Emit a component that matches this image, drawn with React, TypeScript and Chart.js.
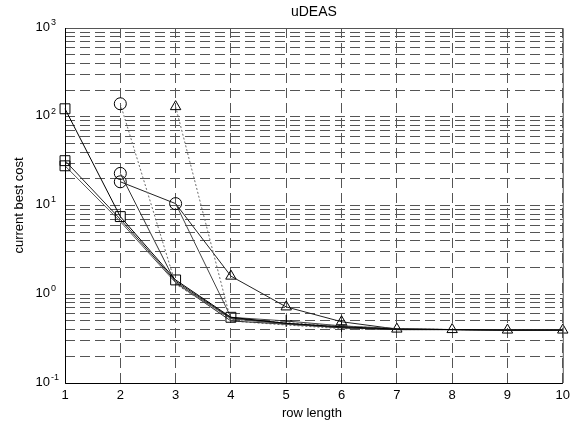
import React, { useEffect, useRef } from "react";
import { Chart, registerables } from "chart.js";

Chart.register(...registerables);

// ---- data ----
const rowLength = [1, 2, 3, 4, 5, 6, 7, 8, 9, 10];

const seriesA = [123, 7.5, 1.45, 0.55, 0.47, 0.43, 0.405, 0.4, 0.395, 0.395];
const seriesB = [32, 7.0, 1.4, 0.54, 0.47, 0.42, 0.4, 0.4, 0.395, 0.395];
const seriesC = [28, 6.6, 1.35, 0.53, 0.46, 0.42, 0.4, 0.4, 0.395, 0.395];
const seriesD = [null, 140, 1.3, 0.52, 0.48, 0.44, 0.41, 0.4, 0.4, 0.395];
const seriesE = [null, 23, 1.35, 0.5, 0.46, 0.42, 0.4, 0.4, 0.395, 0.395];
const seriesF = [null, 18.5, 10.5, 1.6, 0.72, 0.49, 0.405, 0.4, 0.395, 0.395];
const seriesG = [null, null, 10.5, 0.55, 0.5, 0.44, 0.41, 0.4, 0.395, 0.395];
const seriesH = [null, null, 130, 0.5, 0.45, 0.41, 0.4, 0.4, 0.395, 0.395];

const yMajorTicks = [0.1, 1, 10, 100, 1000];
const yMajorExponents = ["-1", "0", "1", "2", "3"];
const xTickLabels = ["1", "2", "3", "4", "5", "6", "7", "8", "9", "10"];

const chartTitle = "uDEAS";
const xTitle = "row length";
const yTitle = "current best cost";

const FONT = '"Liberation Sans", Arial, Helvetica, sans-serif';

function markers(style: string, radius: number, shown: number[]) {
  return {
    pointStyle: rowLength.map((_, i) => (shown.includes(i) ? style : "circle")),
    pointRadius: rowLength.map((_, i) => (shown.includes(i) ? radius : 0)),
  };
}

function toPoints(values: (number | null)[]) {
  return rowLength.map((x, i) => ({ x, y: values[i] }));
}

const overlay = {
  id: "overlay",
  afterDraw(chart: any) {
    const { ctx, chartArea } = chart;
    const y = chart.scales.y;
    ctx.save();
    ctx.setLineDash([]);
    ctx.lineWidth = 1;
    ctx.strokeStyle = "#555";
    ctx.beginPath();
    ctx.moveTo(chartArea.left, chartArea.top + 0.5);
    ctx.lineTo(chartArea.right + 0.5, chartArea.top + 0.5);
    ctx.lineTo(chartArea.right + 0.5, chartArea.bottom);
    ctx.stroke();
    ctx.strokeStyle = "#000";
    ctx.beginPath();
    ctx.moveTo(chartArea.left + 0.5, chartArea.top);
    ctx.lineTo(chartArea.left + 0.5, chartArea.bottom + 0.5);
    ctx.lineTo(chartArea.right, chartArea.bottom + 0.5);
    ctx.stroke();

    ctx.fillStyle = "#000";
    yMajorTicks.forEach((v, i) => {
      const py = y.getPixelForValue(v);
      ctx.font = `13px ${FONT}`;
      ctx.textAlign = "right";
      ctx.textBaseline = "middle";
      ctx.fillText("10", 50, py - 1);
      ctx.font = `9px ${FONT}`;
      ctx.textAlign = "left";
      ctx.textBaseline = "top";
      ctx.fillText(yMajorExponents[i], 51, py - 10);
    });

    ctx.font = `13px ${FONT}`;
    ctx.textAlign = "center";
    ctx.textBaseline = "middle";
    ctx.fillText(xTitle, (chartArea.left + chartArea.right) / 2 - 2, 413);
    ctx.save();
    ctx.translate(19, (chartArea.top + chartArea.bottom) / 2);
    ctx.rotate(-Math.PI / 2);
    ctx.fillText(yTitle, 0, 0);
    ctx.restore();
    ctx.restore();
  },
};

export default function App() {
  const canvasRef = useRef<HTMLCanvasElement | null>(null);

  useEffect(() => {
    if (!canvasRef.current) return;
    const solid = "#000";
    const gray = "#6a6a6a";
    const base = {
      fill: false,
      tension: 0,
      borderWidth: 1,
      pointBackgroundColor: "rgba(0,0,0,0)",
      pointBorderColor: "#000",
      pointBorderWidth: 1,
      clip: false as any,
      spanGaps: false,
    };
    const chart = new Chart(canvasRef.current, {
      type: "line",
      data: {
        datasets: [
          { ...base, label: "A", data: toPoints(seriesA), borderColor: solid, ...markers("rect", 7, [0, 1, 2, 3]) },
          { ...base, label: "B", data: toPoints(seriesB), borderColor: "#222", ...markers("rect", 7, [0]) },
          { ...base, label: "C", data: toPoints(seriesC), borderColor: "#555", ...markers("rect", 7, [0]) },
          { ...base, label: "D", data: toPoints(seriesD), borderColor: gray, borderDash: [2, 2], ...markers("circle", 6, [1]) },
          { ...base, label: "E", data: toPoints(seriesE), borderColor: "#333", ...markers("circle", 6, [1]) },
          { ...base, label: "F", data: toPoints(seriesF), borderColor: "#222", pointStyle: rowLength.map((_, i) => (i <= 2 ? "circle" : "triangle")), pointRadius: rowLength.map((_, i) => (i === 0 ? 0 : 6)) },
          { ...base, label: "G", data: toPoints(seriesG), borderColor: "#444", ...markers("cross", 6, [4, 5]) },
          { ...base, label: "H", data: toPoints(seriesH), borderColor: gray, borderDash: [2, 2], ...markers("triangle", 6, [2]) },
        ] as any,
      },
      options: {
        animation: false,
        responsive: false,
        events: [],
        layout: { padding: { right: 8, left: 0, top: 0, bottom: 0 } },
        plugins: {
          legend: { display: false },
          tooltip: { enabled: false },
          title: {
            display: true,
            text: chartTitle,
            fullSize: false,
            color: "#000",
            font: { family: FONT, size: 14, weight: "normal" },
            padding: { top: 4, bottom: 7.2 },
          },
        },
        scales: {
          x: {
            type: "linear",
            min: 1,
            max: 10,
            afterFit: (s: any) => {
              s.height = 40;
            },
            afterBuildTicks: (s: any) => {
              s.ticks = rowLength.map((v) => ({ value: v }));
            },
            ticks: {
              color: "#000",
              font: { family: FONT, size: 13 },
              padding: 5,
              maxRotation: 0,
              autoSkip: false,
              callback: (_v: any, i: number) => xTickLabels[i],
            },
            grid: { color: "#555", lineWidth: 1, drawTicks: false },
            border: { display: false, dash: [10, 5] },
          },
          y: {
            type: "logarithmic",
            min: 0.1,
            max: 1000,
            afterFit: (s: any) => {
              s.width = 65;
            },
            afterBuildTicks: (s: any) => {
              const t: { value: number }[] = [];
              for (let e = -1; e < 3; e++) {
                for (let m = 1; m < 10; m++) t.push({ value: m * Math.pow(10, e) });
              }
              t.push({ value: 1000 });
              s.ticks = t;
            },
            ticks: { display: false },
            grid: { color: "#555", lineWidth: 1, drawTicks: false },
            border: { display: false, dash: [10, 5] },
          },
        },
      },
      plugins: [overlay],
    });
    return () => chart.destroy();
  }, []);

  return (
    <div style={{ position: "absolute", left: 0, top: 0, width: 575, height: 423, background: "#fff" }}>
      <canvas ref={canvasRef} width={575} height={423} style={{ width: 575, height: 423 }} />
    </div>
  );
}
